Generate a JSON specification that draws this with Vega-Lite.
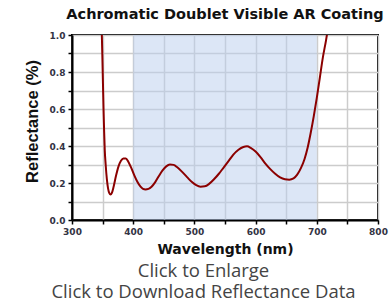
{
  "$schema": "https://vega.github.io/schema/vega-lite/v6.json",
  "width": 306,
  "height": 185,
  "autosize": "none",
  "padding": {"left": 72, "top": 35, "right": 11, "bottom": 81},
  "background": "white",
  "title": {
    "text": "Achromatic Doublet Visible AR Coating",
    "font": "DejaVu Sans",
    "fontSize": 14.5,
    "fontWeight": "bold",
    "color": "#111111",
    "anchor": "middle",
    "offset": 9
  },
  "config": {
    "view": {"stroke": "black", "strokeWidth": 2},
    "axisY": {
      "titleFont": "Liberation Sans",
      "titleFontSize": 16.5,
      "titleFontWeight": "bold",
      "titleColor": "#111111",
      "titlePadding": 9,
      "titleY": 86,
      "labelOverlap": false,
      "labelFont": "DejaVu Sans",
      "labelFontSize": 9,
      "labelFontWeight": "bold",
      "labelColor": "#333344",
      "labelFlush": false,
      "labelPadding": 3,
      "domainColor": "black",
      "domainWidth": 2,
      "tickColor": "black",
      "tickWidth": 1.5,
      "tickSize": 4,
      "grid": true,
      "gridColor": "#cccccc",
      "gridWidth": 1.5
    }
  },
  "datasets": {
    "band": [{"start": 400, "end": 700}],
    "curve": [
      {"wl": 348, "r": 1.1},
      {"wl": 349.5, "r": 0.9},
      {"wl": 350.5, "r": 0.75},
      {"wl": 351.5, "r": 0.6},
      {"wl": 352.5, "r": 0.48},
      {"wl": 353.5, "r": 0.38},
      {"wl": 355, "r": 0.3},
      {"wl": 357, "r": 0.22},
      {"wl": 359, "r": 0.17},
      {"wl": 361, "r": 0.145},
      {"wl": 363, "r": 0.138},
      {"wl": 365, "r": 0.145},
      {"wl": 368, "r": 0.18},
      {"wl": 372, "r": 0.24},
      {"wl": 376, "r": 0.29},
      {"wl": 380, "r": 0.32},
      {"wl": 384, "r": 0.333},
      {"wl": 388, "r": 0.333},
      {"wl": 392, "r": 0.315},
      {"wl": 397, "r": 0.28},
      {"wl": 402, "r": 0.24},
      {"wl": 407, "r": 0.205},
      {"wl": 412, "r": 0.18},
      {"wl": 416, "r": 0.168},
      {"wl": 420, "r": 0.165},
      {"wl": 425, "r": 0.168},
      {"wl": 430, "r": 0.18},
      {"wl": 436, "r": 0.205},
      {"wl": 442, "r": 0.238},
      {"wl": 448, "r": 0.268},
      {"wl": 454, "r": 0.29},
      {"wl": 460, "r": 0.3},
      {"wl": 466, "r": 0.298},
      {"wl": 472, "r": 0.285},
      {"wl": 480, "r": 0.26},
      {"wl": 488, "r": 0.232},
      {"wl": 496, "r": 0.205},
      {"wl": 503, "r": 0.188},
      {"wl": 510, "r": 0.18},
      {"wl": 517, "r": 0.182},
      {"wl": 524, "r": 0.195},
      {"wl": 532, "r": 0.22},
      {"wl": 540, "r": 0.25},
      {"wl": 548, "r": 0.285},
      {"wl": 556, "r": 0.32},
      {"wl": 564, "r": 0.355},
      {"wl": 572, "r": 0.38},
      {"wl": 580, "r": 0.395},
      {"wl": 586, "r": 0.398},
      {"wl": 592, "r": 0.39},
      {"wl": 600, "r": 0.37},
      {"wl": 608, "r": 0.34},
      {"wl": 616, "r": 0.305},
      {"wl": 624, "r": 0.275},
      {"wl": 632, "r": 0.25},
      {"wl": 640, "r": 0.23},
      {"wl": 648, "r": 0.22},
      {"wl": 655, "r": 0.218},
      {"wl": 662, "r": 0.225},
      {"wl": 668, "r": 0.245},
      {"wl": 674, "r": 0.28},
      {"wl": 680, "r": 0.33},
      {"wl": 685, "r": 0.39},
      {"wl": 690, "r": 0.47},
      {"wl": 695, "r": 0.56},
      {"wl": 700, "r": 0.66},
      {"wl": 705, "r": 0.77},
      {"wl": 710, "r": 0.88},
      {"wl": 715, "r": 0.97},
      {"wl": 718, "r": 1.03}
    ]
  },
  "resolve": {"axis": {"x": "independent"}},
  "layer": [
    {
      "data": {"name": "band"},
      "mark": {"type": "rect", "fill": "#b9cded", "opacity": 0.5},
      "encoding": {
        "x": {
          "field": "start",
          "type": "quantitative",
          "scale": {"domain": [300, 800], "nice": false},
          "axis": {
            "title": "Wavelength (nm)",
            "titleFont": "DejaVu Sans",
            "titleFontSize": 14,
            "titleFontWeight": "bold",
            "titleColor": "#111111",
            "titlePadding": 6,
            "values": [300, 350, 400, 450, 500, 550, 600, 650, 700, 750, 800],
            "labelExpr": "datum.value % 100 === 0 ? datum.label : ''",
            "labelOverlap": false,
            "labelFont": "DejaVu Sans",
            "labelFontSize": 9,
            "labelFontWeight": "bold",
            "labelColor": "#333344",
            "labelFlush": false,
            "labelPadding": 3,
            "domainColor": "black",
            "domainWidth": 2,
            "tickColor": "black",
            "tickWidth": 1.5,
            "tickSize": 4,
            "grid": true,
            "gridColor": "#cccccc",
            "gridWidth": 1.5
          }
        },
        "x2": {"field": "end"},
        "y": {
          "datum": 0,
          "type": "quantitative",
          "scale": {"domain": [0, 1], "nice": false},
          "axis": {
            "title": "Reflectance (%)",
            "values": [0, 0.1, 0.2, 0.3, 0.4, 0.5, 0.6, 0.7, 0.8, 0.9, 1.0],
            "format": ".1f",
            "labelExpr": "round(datum.value * 10) % 2 === 0 ? datum.label : ''"
          }
        },
        "y2": {"datum": 1}
      }
    },
    {
      "data": {"name": "curve"},
      "mark": {"type": "line", "color": "#8b0000", "strokeWidth": 2, "clip": true, "interpolate": "monotone"},
      "encoding": {
        "x": {
          "field": "wl",
          "type": "quantitative",
          "scale": {"domain": [300, 800], "nice": false},
          "axis": {
            "orient": "bottom",
            "offset": 41,
            "title": ["Click to Enlarge", "Click to Download Reflectance Data"],
            "titleFont": "Open Sans",
            "titleFontSize": 18.5,
            "titleFontWeight": "normal",
            "titleColor": "#444444",
            "titleLineHeight": 21,
            "titleX": 131,
            "titlePadding": 0,
            "labels": false,
            "ticks": false,
            "domain": false,
            "grid": false
          }
        },
        "y": {
          "field": "r",
          "type": "quantitative",
          "scale": {"domain": [0, 1], "nice": false},
          "axis": {
            "title": "Reflectance (%)",
            "values": [0, 0.1, 0.2, 0.3, 0.4, 0.5, 0.6, 0.7, 0.8, 0.9, 1.0],
            "format": ".1f",
            "labelExpr": "round(datum.value * 10) % 2 === 0 ? datum.label : ''"
          }
        }
      }
    }
  ]
}
